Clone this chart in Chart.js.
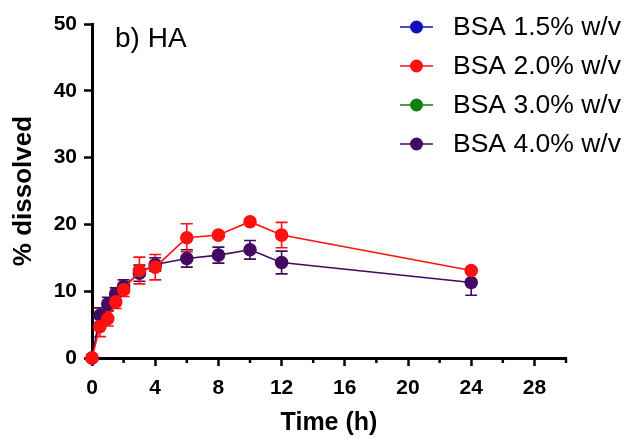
<!DOCTYPE html>
<html>
<head>
<meta charset="utf-8">
<script src="https://cdn.jsdelivr.net/npm/chart.js@4"></script>
<style>
  html, body { margin: 0; padding: 0; background: #fff; }
  #wrap { width: 632px; height: 439px; }
</style>
</head>
<body>
<div id="wrap"><canvas id="chart" width="632" height="439"></canvas></div>
<script>
// time points (h)
const timePoints = [0, 0.5, 1, 1.5, 2, 3, 4, 6, 8, 10, 12, 24];

// % dissolved
const bsa15 = [];
const bsa20 = [0, 4.7, 5.9, 8.4, 10.2, 13.1, 13.6, 18.0, 18.4, 20.4, 18.4, 13.1];
const bsa30 = [];
const bsa40 = [0, 6.4, 8.1, 9.6, 10.7, 12.7, 14.0, 14.9, 15.4, 16.2, 14.3, 11.3];

// standard deviations
const bsa20Err = [0, 1.5, 1.1, 1.0, 1.0, 2.0, 1.9, 2.1, 0.3, 0.3, 1.9, 0.3];
const bsa40Err = [0, 1.1, 1.0, 0.9, 1.0, 1.2, 1.0, 1.3, 1.2, 1.4, 1.7, 1.9];

const seriesLabels = ['BSA 1.5% w/v', 'BSA 2.0% w/v', 'BSA 3.0% w/v', 'BSA 4.0% w/v'];
const seriesColors = ['#1010c0', '#ff1010', '#108010', '#420a60'];

const xTicks = [0, 4, 8, 12, 16, 20, 24, 28];
const yTicks = [0, 10, 20, 30, 40, 50];

const toPoints = (vals, errs) => vals.map((v, i) => ({ x: timePoints[i], y: v, err: errs ? errs[i] : 0 }));

const allSeries = [
    toPoints(bsa15, null),
    toPoints(bsa20, bsa20Err),
    toPoints(bsa30, null),
    toPoints(bsa40, bsa40Err)
];

// error bars, drawn under the markers
const errorBars = {
    id: 'errorBars',
    beforeDatasetsDraw(chart) {
        const ctx = chart.ctx;
        const xs = chart.scales.x, ys = chart.scales.y;
        for (let d = chart.data.datasets.length - 1; d >= 0; d--) {
            const ds = chart.data.datasets[d];
            ctx.save();
            ctx.strokeStyle = ds.borderColor;
            ctx.lineWidth = 1.6;
            ds.data.forEach(p => {
                if (!p.err) return;
                const px = xs.getPixelForValue(p.x);
                const top = ys.getPixelForValue(p.y + p.err);
                const bot = ys.getPixelForValue(p.y - p.err);
                ctx.beginPath();
                ctx.moveTo(px, top); ctx.lineTo(px, bot);
                ctx.moveTo(px - 6, top); ctx.lineTo(px + 6, top);
                ctx.moveTo(px - 6, bot); ctx.lineTo(px + 6, bot);
                ctx.stroke();
            });
            ctx.restore();
        }
    }
};

// minor x ticks, panel label and legend
const extras = {
    id: 'extras',
    afterDraw(chart) {
        const ctx = chart.ctx;
        const xs = chart.scales.x;
        ctx.save();
        ctx.strokeStyle = '#000';
        ctx.lineWidth = 2.5;
        for (let v = 2; v <= 30; v += 4) {
            const px = xs.getPixelForValue(v);
            ctx.beginPath();
            ctx.moveTo(px, xs.top);
            ctx.lineTo(px, xs.top + 5);
            ctx.stroke();
        }

        ctx.fillStyle = '#000';
        ctx.font = '28px "Liberation Sans", Arial, sans-serif';
        ctx.textAlign = 'left';
        ctx.textBaseline = 'alphabetic';
        ctx.fillText('b) HA', 115, 47);

        ctx.font = '26.5px "Liberation Sans", Arial, sans-serif';
        ctx.textBaseline = 'middle';
        chart.data.datasets.forEach((ds, i) => {
            const y = 27 + i * 39;
            ctx.strokeStyle = ds.borderColor;
            ctx.lineWidth = 1.6;
            ctx.beginPath();
            ctx.moveTo(400, y); ctx.lineTo(433, y);
            ctx.stroke();
            ctx.fillStyle = ds.backgroundColor;
            ctx.beginPath();
            ctx.arc(416.5, y, 6.5, 0, Math.PI * 2);
            ctx.fill();
            ctx.fillStyle = '#000';
            ctx.fillText(ds.label, 453, y + 1);
        });
        ctx.restore();
    }
};

const fam = '"Liberation Sans", Arial, sans-serif';
const tickFont = { family: fam, size: 21, weight: 'bold' };

new Chart(document.getElementById('chart'), {
    type: 'line',
    data: {
        datasets: allSeries.map((pts, i) => ({
            label: seriesLabels[i],
            data: pts,
            borderColor: seriesColors[i],
            backgroundColor: seriesColors[i],
            pointBackgroundColor: seriesColors[i],
            pointBorderWidth: 0,
            pointRadius: 6.8,
            borderWidth: 1.6,
            tension: 0,
            clip: false
        }))
    },
    options: {
        responsive: false,
        animation: false,
        layout: { padding: { top: 24, right: 66, left: 0, bottom: 0 } },
        plugins: {
            legend: { display: false },
            tooltip: { enabled: false }
        },
        scales: {
            x: {
                type: 'linear',
                min: 0,
                max: 30,
                afterFit: s => { s.height = 81; },
                afterBuildTicks: s => { s.ticks = xTicks.concat([30]).map(v => ({ value: v })); },
                border: { display: true, color: '#000', width: 3 },
                grid: {
                    drawOnChartArea: false,
                    drawTicks: true,
                    tickLength: 8,
                    tickWidth: 2.5,
                    tickColor: c => (c.tick && c.tick.value === 30) ? 'rgba(0,0,0,0)' : '#000'
                },
                ticks: {
                    color: '#000',
                    font: tickFont,
                    padding: 10,
                    maxRotation: 0,
                    autoSkip: false,
                    callback: v => (xTicks.includes(v) ? String(v) : '')
                },
                title: {
                    display: true,
                    text: 'Time (h)',
                    color: '#000',
                    font: { family: fam, size: 25, weight: 'bold' },
                    padding: { top: 0, bottom: 1 }
                }
            },
            y: {
                min: 0,
                max: 50,
                afterFit: s => { s.width = 92; },
                afterBuildTicks: s => { s.ticks = yTicks.map(v => ({ value: v })); },
                border: { display: true, color: '#000', width: 3 },
                grid: {
                    drawOnChartArea: false,
                    drawTicks: true,
                    tickLength: 8,
                    tickWidth: 2.5,
                    tickColor: '#000'
                },
                ticks: {
                    color: '#000',
                    font: tickFont,
                    padding: 7
                },
                title: {
                    display: true,
                    text: '% dissolved',
                    color: '#000',
                    font: { family: fam, size: 26, weight: 'bold' },
                    padding: { top: 8, bottom: 0 }
                }
            }
        }
    },
    plugins: [errorBars, extras]
});
</script>
</body>
</html>
